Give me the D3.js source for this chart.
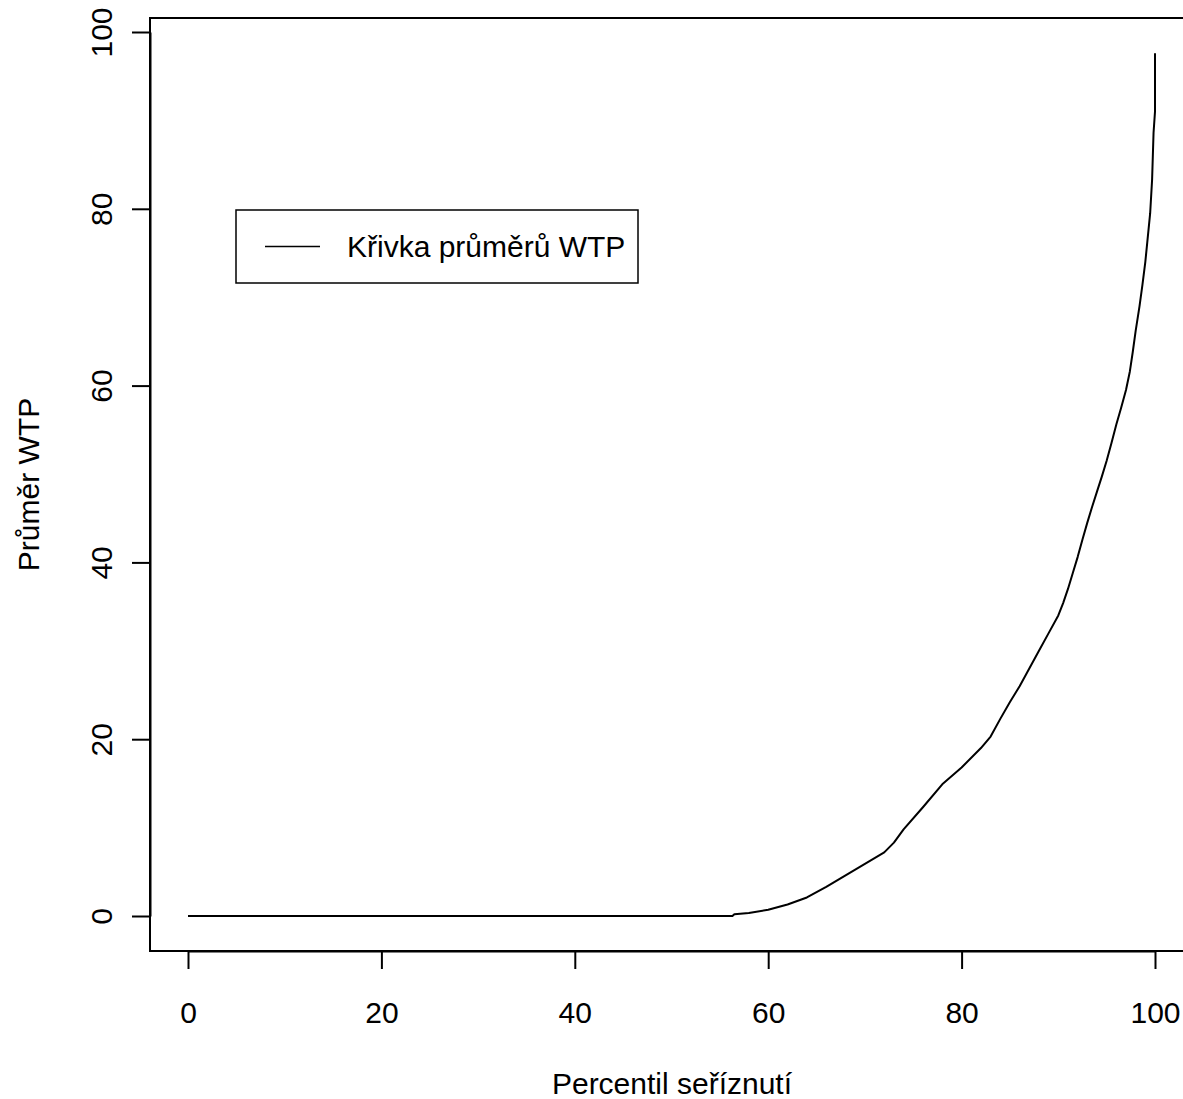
<!DOCTYPE html>
<html>
<head>
<meta charset="utf-8">
<script src="https://cdn.jsdelivr.net/npm/d3@7"></script>
<style>
  html, body { margin: 0; padding: 0; background: #fff; }
  svg { display: block; }
  text { font-family: "Liberation Sans", Arial, Helvetica, sans-serif; fill: #000; }
</style>
</head>
<body>
<svg id="chart" width="1183" height="1099"></svg>
<script>
// ---- data ----
const percentile = [0, 56.3, 56.5, 58, 60, 62, 64, 66, 68, 70, 72, 73, 74, 76, 78, 80, 82, 83, 84, 85, 86, 87, 88, 89, 90, 90.5, 91, 91.5, 92, 92.5, 93, 93.5, 94, 94.5, 95, 95.5, 96, 96.5, 97, 97.4, 97.7, 98, 98.4, 98.7, 99, 99.2, 99.5, 99.7, 99.85, 100, 100];
const meanWTP    = [0, 0,    0.2,  0.35, 0.7, 1.3, 2.1, 3.3, 4.6, 5.9, 7.2, 8.3, 9.8, 12.3, 14.9, 16.8, 19.0, 20.3, 22.3, 24.2, 26.0, 28.0, 30.0, 32.0, 34.0, 35.4, 37.0, 38.8, 40.6, 42.6, 44.5, 46.3, 48.0, 49.7, 51.5, 53.5, 55.6, 57.5, 59.5, 61.6, 63.8, 66.2, 69.0, 71.4, 74.0, 76.2, 79.5, 83.3, 88.6, 91.0, 97.6];
const xTicks = [0, 20, 40, 60, 80, 100];
const yTicks = [0, 20, 40, 60, 80, 100];
const xTitle = "Percentil seříznutí";
const yTitle = "Průměr WTP";
const legendLabel = "Křivka průměrů WTP";

// ---- layout ----
const svg = d3.select("#chart");
const box = { left: 150, top: 18, right: 1194, bottom: 951 };
const x = d3.scaleLinear().domain([0, 100]).range([188, 1155]);
const y = d3.scaleLinear().domain([0, 100]).range([916, 32]);

// plot box
svg.append("rect")
  .attr("x", box.left).attr("y", box.top)
  .attr("width", box.right - box.left).attr("height", box.bottom - box.top)
  .attr("fill", "none").attr("stroke", "#000").attr("stroke-width", 2);

// x axis
const xAxis = svg.append("g")
  .attr("transform", `translate(0,${box.bottom})`)
  .call(d3.axisBottom(x).tickValues(xTicks).tickSize(18).tickSizeOuter(0).tickPadding(0).tickFormat(d3.format("d")));
xAxis.select(".domain").attr("stroke", "#000").attr("stroke-width", 2);
xAxis.selectAll(".tick line").attr("stroke", "#000").attr("stroke-width", 2);
xAxis.selectAll(".tick text")
  .attr("y", 72).attr("dy", null)
  .style("font-size", "30px").style("font-family", "'Liberation Sans', Arial, sans-serif").attr("fill", "#000");

// y axis
const yAxis = svg.append("g")
  .attr("transform", `translate(${box.left},0)`)
  .call(d3.axisLeft(y).tickValues(yTicks).tickSize(18).tickSizeOuter(0).tickPadding(0).tickFormat(d3.format("d")));
yAxis.select(".domain").attr("stroke", "#000").attr("stroke-width", 2);
yAxis.selectAll(".tick line").attr("stroke", "#000").attr("stroke-width", 2);
yAxis.selectAll(".tick text")
  .attr("x", null).attr("dy", null)
  .attr("text-anchor", "middle")
  .attr("transform", "translate(-38,0) rotate(-90)")
  .style("font-size", "30px").style("font-family", "'Liberation Sans', Arial, sans-serif").attr("fill", "#000");

// axis titles
svg.append("text")
  .attr("x", (box.left + box.right) / 2).attr("y", 1094)
  .attr("text-anchor", "middle").style("font-size", "30px")
  .text(xTitle);
svg.append("text")
  .attr("transform", `translate(39,${(box.top + box.bottom) / 2}) rotate(-90)`)
  .attr("text-anchor", "middle").style("font-size", "30px")
  .text(yTitle);

// curve
const line = d3.line().x((d, i) => x(percentile[i])).y(d => y(d)).curve(d3.curveLinear);
svg.append("path")
  .datum(meanWTP)
  .attr("d", line)
  .attr("fill", "none").attr("stroke", "#000").attr("stroke-width", 2)
  .attr("stroke-linejoin", "round");

// legend
const lg = svg.append("g");
lg.append("rect")
  .attr("x", 236).attr("y", 210).attr("width", 402).attr("height", 73)
  .attr("fill", "#fff").attr("stroke", "#000").attr("stroke-width", 1.5);
lg.append("line")
  .attr("x1", 265).attr("x2", 320).attr("y1", 246.5).attr("y2", 246.5)
  .attr("stroke", "#000").attr("stroke-width", 1.5);
lg.append("text")
  .attr("x", 347).attr("y", 257).style("font-size", "30px")
  .text(legendLabel);
</script>
</body>
</html>
